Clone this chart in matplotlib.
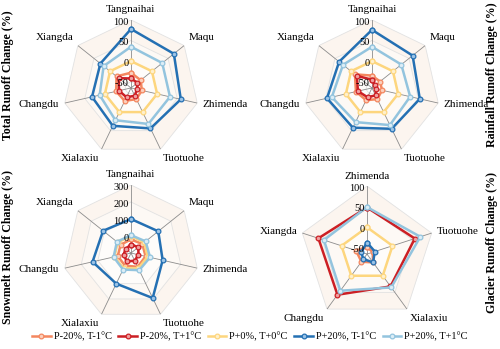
import numpy as np
import matplotlib
matplotlib.use("Agg")
import matplotlib.pyplot as plt

plt.rcParams['font.family'] = ['Liberation Serif', 'DejaVu Serif']

stations7 = ['Tangnaihai', 'Maqu', 'Zhimenda', 'Tuotuohe', 'Xialaxiu', 'Changdu', 'Xiangda']
stations5 = ['Zhimenda', 'Tuotuohe', 'Xialaxiu', 'Changdu', 'Xiangda']
scenarios = ['P-20%, T-1\u00b0C', 'P-20%, T+1\u00b0C', 'P+0%, T+0\u00b0C', 'P+20%, T-1\u00b0C', 'P+20%, T+1\u00b0C']
colors = ['#f4875f', '#cc1f24', '#fdd67e', '#2470b3', '#93c4de']
faces = ['#fbd0bd', '#f0a0a0', '#fff0cc', '#9cc3e6', '#dcedf6']

# rows = scenarios (same order as legend)
total_runoff = [
    [-28, -35, -38, -35, -30, -28, -20],
    [-42, -45, -50, -44, -40, -35, -27],
    [0, 0, 0, 0, 0, 0, 0],
    [78, 68, 59, 44, 37, 32, 30],
    [35, 32, 32, 32, 22, 13, 20],
]
rainfall_runoff = [
    [-35, -40, -40, -35, -32, -25, -12],
    [-45, -55, -55, -45, -40, -30, -18],
    [0, 0, 0, 0, 0, 0, 0],
    [76, 61, 54, 45, 42, 47, 37],
    [35, 26, 30, 35, 27, 35, 25],
]
snowmelt_runoff = [
    [-20, -15, -12, -10, -18, -20, -22],
    [-50, -45, -55, -50, -45, -55, -60],
    [0, 0, 0, 0, 0, 0, 0],
    [100, 105, 91, 194, 100, 132, 110],
    [5, 10, 15, 12, 8, 5, 6],
]
glacier_runoff = [
    [-48, -50, -40, -42, -37],
    [48, 57, 32, 57, 59],
    [0, 0, 0, 0, 0],
    [-37, -45, -40, -50, -50],
    [49, 71, 35, 45, 45],
]

panels = [
    # data, stations, ticks, rmin, ylabel, side, axes rect, label y
    (total_runoff, stations7, [-50, 0, 50, 100], -65, 'Total Runoff Change (%)', 'left',
     [0.126, 0.553, 0.272, 0.39], 0.785),
    (rainfall_runoff, stations7, [-50, 0, 50, 100], -65, 'Rainfall Runoff Change (%)', 'right',
     [0.608, 0.553, 0.272, 0.39], 0.785),
    (snowmelt_runoff, stations7, [-100, 0, 100, 200, 300], -100, 'Snowmelt Runoff Change (%)', 'left',
     [0.126, 0.080, 0.272, 0.39], 0.292),
    (glacier_runoff, stations5, [-50, 0, 50, 100], -65, 'Glacier Runoff Change (%)', 'right',
     [0.598, 0.077, 0.272, 0.39], 0.304),
]

band_cols = ['#fcf5ef', '#fdf9f5', '#fefcfa', '#ffffff', '#ffffff']

fig = plt.figure(figsize=(5, 3.49), dpi=100)
lines = []
for data, names, ticks, rmin, ylab, side, rect, ly in panels:
    ax = fig.add_axes(rect, projection='polar')
    n = len(names)
    th = np.arange(n) * 2 * np.pi / n
    thc = np.append(th, th[0])
    rmax = ticks[-1]
    ax.set_theta_zero_location('N')
    ax.set_theta_direction(-1)
    ax.set_ylim(rmin, rmax)
    ax.grid(False)
    ax.spines['polar'].set_visible(False)
    ax.set_xticks([])
    ax.set_yticks([])

    # background bands + polygon grid
    levels = sorted(ticks, reverse=True)
    for k, lv in enumerate(levels):
        ax.fill(thc, [lv] * (n + 1), color=band_cols[min(k, len(band_cols) - 1)], zorder=0, lw=0)
        ax.plot(thc, [lv] * (n + 1), color='#e2e2e2', lw=0.6, zorder=1)
    for t in th:
        ax.plot([t, t], [rmin, rmax], color='#8c8c8c', lw=0.6, zorder=1)

    for i in range(len(scenarios)):
        vals = data[i] + [data[i][0]]
        ln, = ax.plot(thc, vals, color=colors[i], lw=1.8, marker='o', ms=3.4,
                      mfc=faces[i], mec=colors[i], mew=0.9, zorder=3 + i,
                      label=scenarios[i])
        if len(lines) < len(scenarios):
            lines.append(ln)

    for v in ticks:
        if v == rmin:
            continue
        ax.annotate(str(v), xy=(0, v), xytext=(-1.5, -1.5), textcoords='offset points',
                    ha='right', va='center', fontsize=7.5, zorder=10)

    for t, name in zip(th, names):
        s, c = np.sin(t), np.cos(t)
        ha = 'center' if abs(s) < 0.2 else ('left' if s > 0 else 'right')
        va = 'center' if abs(c) < 0.5 else ('bottom' if c > 0 else 'top')
        if abs(s) < 0.2:
            va = 'bottom' if c > 0 else 'top'
        ax.annotate(name, xy=(t, rmax), xytext=(4 * s, 4 * c), textcoords='offset points',
                    ha=ha, va=va, fontsize=8, annotation_clip=False)

    lx = 0.016 if side == 'left' else 0.984
    fig.text(lx, ly, ylab, rotation=90, ha='center', va='center',
             fontsize=8.6, fontweight='bold')

fig.legend(handles=lines, loc='center', bbox_to_anchor=(0.5, 0.035), ncol=5,
           frameon=False, fontsize=7.5, handlelength=1.8, handletextpad=0.3,
           columnspacing=0.6)

fig.savefig('out.png', dpi=100)
